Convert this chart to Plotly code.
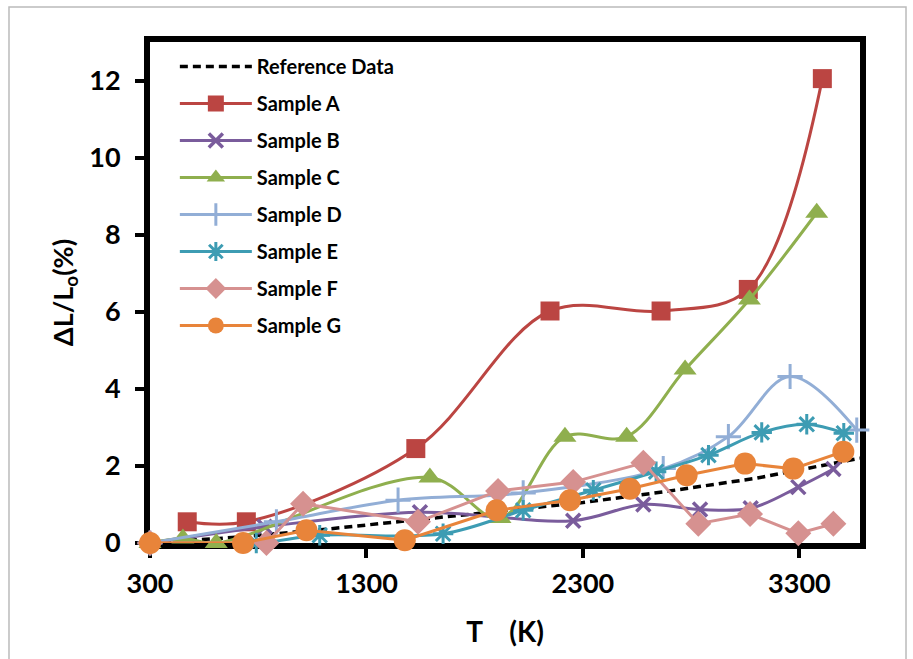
import plotly.graph_objects as go

# ---- data ----
ref_T = [300, 700, 1100, 1500, 1900, 2300, 2700, 3100, 3580]
ref_v = [0, 0.15, 0.35, 0.58, 0.8, 1.05, 1.35, 1.68, 2.2]

a_T = [472, 745, 1528, 2148, 2661, 3064, 3406]
a_v = [0.55, 0.55, 2.45, 6.02, 6.02, 6.58, 12.05]

b_T = [300, 830, 1547, 2255, 2579, 2841, 3075, 3295, 3457]
b_v = [0, 0.42, 0.8, 0.58, 1.0, 0.87, 0.9, 1.45, 1.92]

c_T = [300, 452, 606, 1593, 1917, 2217, 2502, 2772, 3069, 3380]
c_v = [0, 0.12, 0, 1.7, 0.65, 2.76, 2.76, 4.5, 6.32, 8.57]

d_T = [300, 884, 1446, 2024, 2671, 2972, 3257, 3565]
d_v = [0, 0.55, 1.11, 1.3, 1.93, 2.76, 4.32, 2.93]

e_T = [300, 791, 1084, 1654, 2024, 2348, 2638, 2880, 3126, 3334, 3505]
e_v = [0, 0, 0.2, 0.24, 0.85, 1.37, 1.85, 2.28, 2.87, 3.08, 2.85]

f_T = [300, 838, 1007, 1538, 1908, 2255, 2579, 2833, 3072, 3295, 3457]
f_v = [0, 0, 1.02, 0.55, 1.35, 1.58, 2.08, 0.5, 0.75, 0.25, 0.5]

g_T = [300, 730, 1023, 1477, 1901, 2240, 2517, 2779, 3049, 3272, 3503]
g_v = [0, 0, 0.33, 0.07, 0.85, 1.11, 1.41, 1.76, 2.06, 1.93, 2.37]

x_ticks = [300, 1300, 2300, 3300]
y_ticks = [0, 2, 4, 6, 8, 10, 12]

FONT = "Lato"

series = [
    ("Sample A", a_T, a_v, "#BB4542", dict(symbol="square", size=19), "spline"),
    ("Sample B", b_T, b_v, "#7A5C9C", dict(symbol="x-thin", size=14, line=dict(width=3.5, color="#7A5C9C")), "spline"),
    ("Sample C", c_T, c_v, "#8FAF4E", dict(symbol="triangle-up", size=20), "spline"),
    ("Sample D", d_T, d_v, "#92AED6", dict(symbol="cross-thin", size=18, line=dict(width=3, color="#92AED6")), "spline"),
    ("Sample E", e_T, e_v, "#3D9CB3", dict(symbol="asterisk", size=17, line=dict(width=3, color="#3D9CB3")), "spline"),
    ("Sample F", f_T, f_v, "#D69190", dict(symbol="diamond", size=20), "linear"),
    ("Sample G", g_T, g_v, "#E8843A", dict(symbol="circle", size=22), "linear"),
]

fig = go.Figure()
fig.add_trace(go.Scatter(
    x=ref_T, y=ref_v, name="Reference Data", mode="lines",
    line=dict(color="black", width=3.5, dash="8px,5px"), legendgroup="r",
))
for i, (name, xs, ys, col, mk, shape) in enumerate(series):
    mk = dict(mk)
    mk["color"] = col
    fig.add_trace(go.Scatter(
        x=xs, y=ys, name=name, mode="lines+markers",
        line=dict(color=col, width=3, shape=shape, smoothing=1.0),
        marker=mk, cliponaxis=False, legendgroup=str(i),
    ))

fig.update_layout(
    width=913, height=659,
    margin=dict(l=150, r=53, t=42, b=116),
    paper_bgcolor="white", plot_bgcolor="white",
    font=dict(family=FONT, color="black"),
    showlegend=True,
    legend=dict(
        x=0.035, y=0.99, xanchor="left", yanchor="top",
        bgcolor="rgba(0,0,0,0)", font=dict(size=20, family=FONT, weight="bold"),
        traceorder="grouped", tracegroupgap=8, itemwidth=72,
    ),
    shapes=[dict(type="rect", xref="paper", yref="paper",
                 x0=-0.1986, x1=1.0648, y0=-0.2535, y1=1.0699,
                 line=dict(color="#BBBBBB", width=1.5), layer="below")],
)
fig.update_xaxes(
    range=[300, 3580], tickvals=x_ticks, ticktext=[str(t) for t in x_ticks],
    showgrid=False, zeroline=False,
    showline=True, linewidth=6, linecolor="black", mirror=True,
    ticks="outside", ticklen=9, tickwidth=4, tickcolor="black",
    tickfont=dict(size=27, family=FONT, weight="bold"),
    ticklabelstandoff=3, layer="below traces",
    title=dict(text="T    (K)", font=dict(size=28, family=FONT, weight="bold"), standoff=26),
)
fig.update_yaxes(
    range=[0, 13], tickvals=y_ticks, ticktext=[str(t) for t in y_ticks],
    showgrid=False, zeroline=False,
    showline=True, linewidth=6, linecolor="black", mirror=True,
    ticks="outside", ticklen=9, tickwidth=4, tickcolor="black",
    tickfont=dict(size=27, family=FONT, weight="bold"),
    ticklabelstandoff=9, layer="below traces",
    title=dict(text="ΔL/L<sub>o</sub>(%)", font=dict(size=27, family=FONT, weight="bold"), standoff=10),
)

fig.write_html("out.html")
